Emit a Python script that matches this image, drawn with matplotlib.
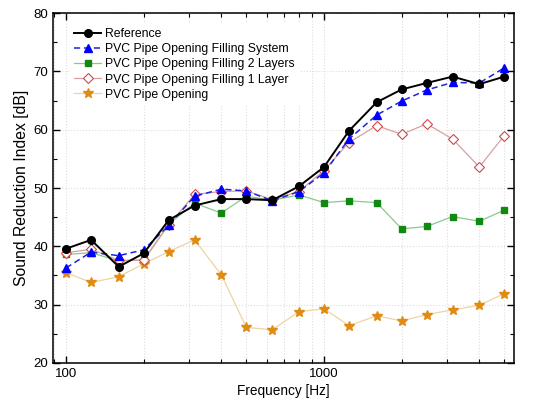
import numpy as np
import matplotlib
matplotlib.use("Agg")
import matplotlib.pyplot as plt
from matplotlib.ticker import FixedLocator, MultipleLocator, LogLocator, NullFormatter

plt.rcParams['font.family'] = ['Liberation Sans', 'DejaVu Sans']

# 1/3 octave band centre frequencies
freq = [100, 125, 160, 200, 250, 315, 400, 500, 630, 800, 1000, 1250, 1600, 2000, 2500, 3150, 4000, 5000]

reference = [39.6, 41.1, 36.5, 38.8, 44.5, 47.0, 48.1, 48.1, 47.9, 50.3, 53.6, 59.8, 64.7, 66.9, 68.0, 69.1, 67.8, 69.1]
filling_system = [36.3, 39.0, 38.4, 39.4, 43.6, 48.6, 49.8, 49.5, 47.8, 49.4, 52.6, 58.4, 62.5, 64.9, 66.8, 68.1, 68.0, 70.6]
filling_2_layers = [38.6, 38.9, 37.5, 37.7, 43.8, 47.4, 45.7, 48.6, 47.9, 48.8, 47.5, 47.8, 47.5, 43.0, 43.4, 45.1, 44.3, 46.2]
filling_1_layer = [38.9, 39.5, 37.6, 37.6, 43.7, 48.9, 49.4, 49.5, 48.0, 49.4, 53.0, 57.8, 60.7, 59.2, 61.0, 58.4, 53.6, 59.0]
opening = [35.5, 33.8, 34.8, 37.0, 39.1, 41.1, 35.1, 26.1, 25.7, 28.8, 29.3, 26.4, 28.1, 27.2, 28.3, 29.1, 29.9, 31.9]

fig = plt.figure(figsize=(5.34, 4.04), dpi=100)
ax = fig.add_axes([0.0993, 0.1015, 0.8632, 0.8663])

ax.plot(freq, reference, color='black', lw=1.4, marker='o', ms=5.5, label='Reference', zorder=6)
ax.plot(freq, filling_system, color='#2020e0', lw=1.1, ls=(0, (4, 2.5)), marker='^', ms=6,
        markerfacecolor='#0000ff', markeredgecolor='#0000ff', label='PVC Pipe Opening Filling System', zorder=5)
ax.plot(freq, filling_2_layers, color='#8cc88c', lw=0.9, marker='s', ms=4,
        markerfacecolor='#118811', markeredgecolor='#118811', label='PVC Pipe Opening Filling 2 Layers', zorder=3)
ax.plot(freq, filling_1_layer, color='#d8a0a0', lw=0.9, marker='D', ms=5,
        markerfacecolor='white', markeredgecolor='#d04848', markeredgewidth=0.8,
        label='PVC Pipe Opening Filling 1 Layer', zorder=4)
ax.plot(freq, opening, color='#ecd4a4', lw=0.9, marker='*', ms=7.5,
        markerfacecolor='#e08c14', markeredgecolor='#e08c14', label='PVC Pipe Opening', zorder=3)

ax.set_xscale('log')
ax.set_xlim(89, 5450)
ax.set_ylim(20, 80)

ax.xaxis.set_major_locator(FixedLocator([100, 1000]))
ax.xaxis.set_major_formatter(matplotlib.ticker.FuncFormatter(lambda v, p: f"{int(v)}"))
ax.xaxis.set_minor_locator(LogLocator(base=10, subs=np.arange(2, 10)))
ax.xaxis.set_minor_formatter(NullFormatter())
ax.yaxis.set_major_locator(MultipleLocator(10))
ax.yaxis.set_minor_locator(MultipleLocator(5))

ax.tick_params(which='both', direction='in', top=True, right=True, labelsize=9.5)
ax.tick_params(which='major', length=5, width=1)
ax.tick_params(which='minor', length=3, width=0.8)
for s in ax.spines.values():
    s.set_linewidth(1.1)

ax.grid(which='both', axis='x', color='#dddddd', ls=':', lw=0.8)
ax.grid(which='major', axis='y', color='#dddddd', ls=':', lw=0.8)

ax.set_xlabel('Frequency [Hz]', fontsize=9.8, labelpad=3)
ax.set_ylabel('Sound Reduction Index [dB]', fontsize=11.3, labelpad=3)

leg = ax.legend(loc='upper left', bbox_to_anchor=(0.025, 0.985), frameon=True, fancybox=False,
                edgecolor='white', facecolor='white', framealpha=1, fontsize=8.8,
                handlelength=2.2, labelspacing=0.26, borderpad=0.3, handletextpad=0.35)
leg.set_zorder(10)

fig.savefig('out.png', dpi=100)
